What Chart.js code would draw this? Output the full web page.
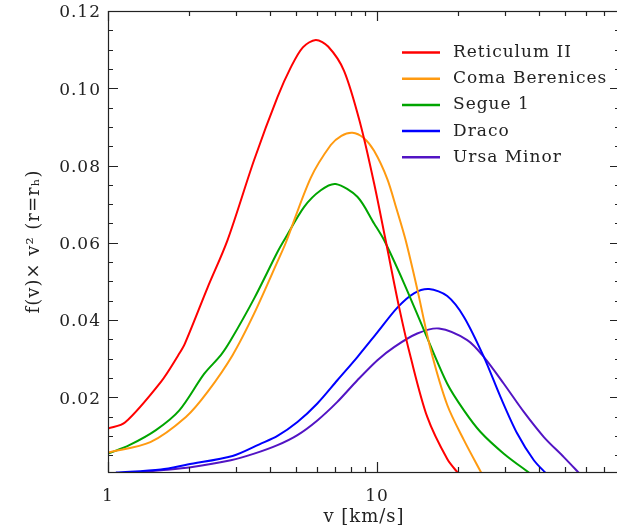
<!DOCTYPE html>
<html>
<head>
<meta charset="utf-8">
<script src="https://cdn.jsdelivr.net/npm/chart.js@4.4.1/dist/chart.umd.min.js"></script>
<style>
    html, body { margin: 0; padding: 0; background: #fff; overflow: hidden; }
    #grafico { display: block; }
</style>
</head>
<body>
<canvas id="grafico" width="625" height="529" style="width:625px;height:529px"></canvas>
<script>
// ========== DATOS ==========
const nombres = ['Reticulum II', 'Coma Berenices', 'Segue 1', 'Draco', 'Ursa Minor'];
const colores = ['#ff0000', '#ff9a10', '#00a500', '#0000ff', '#5214c4'];

const retV = [1.0, 1.156, 1.573, 1.825, 1.931, 2.345, 2.782, 3.495, 4.265, 4.78, 5.3, 5.92, 6.58, 7.54, 8.69, 9.75, 10.76, 12.07, 13.33, 15.37, 18.24, 20.2];
const retF = [0.0119, 0.01345, 0.0240, 0.0309, 0.0339, 0.0484, 0.0607, 0.0815, 0.0977, 0.1054, 0.1106, 0.1125, 0.1108, 0.1045, 0.0905, 0.0754, 0.0607, 0.0434, 0.0304, 0.0149, 0.0040, 0.0];

const comaV = [1.0, 1.437, 1.948, 2.345, 2.904, 3.495, 4.265, 4.58, 5.67, 6.73, 7.37, 8.10, 8.9, 9.75, 10.92, 11.79, 12.77, 14.11, 15.81, 18.24, 21.04, 24.6];
const comaF = [0.0057, 0.0084, 0.0149, 0.0214, 0.0309, 0.0417, 0.0551, 0.0600, 0.0768, 0.0853, 0.0877, 0.0885, 0.0872, 0.0838, 0.0765, 0.0690, 0.0607, 0.0480, 0.0325, 0.0180, 0.0089, 0.0];

const segV = [1.0, 1.20, 1.507, 1.841, 2.28, 2.627, 2.861, 3.495, 4.265, 4.52, 5.36, 6.18, 7.02, 8.45, 9.75, 10.62, 12.6, 14.94, 18.24, 21.04, 24.25, 29.6, 37.5];
const segF = [0.0054, 0.0076, 0.0115, 0.0166, 0.0261, 0.0309, 0.0348, 0.0456, 0.0576, 0.0607, 0.0693, 0.0736, 0.0752, 0.0719, 0.0650, 0.0607, 0.0495, 0.0374, 0.0235, 0.0166, 0.0110, 0.0054, 0.0];

const dracoV = [1.07, 1.573, 1.976, 2.904, 3.70, 4.265, 5.06, 6.0, 7.12, 8.45, 10.03, 11.9, 13.72, 15.6, 18.24, 21.04, 24.97, 28.76, 33.2, 38.27, 42.9];
const dracoF = [0.0005, 0.0013, 0.0026, 0.0048, 0.0080, 0.0100, 0.0136, 0.0184, 0.0244, 0.0304, 0.0368, 0.0432, 0.0469, 0.0480, 0.0462, 0.0408, 0.0304, 0.0201, 0.0106, 0.0037, 0.0];

const umiV = [1.253, 1.573, 2.03, 2.861, 3.495, 4.265, 5.06, 6.0, 7.12, 8.45, 10.03, 11.57, 14.11, 16.99, 21.64, 24.97, 29.6, 35.13, 41.7, 49.46, 57.0];
const umiF = [0.0005, 0.0011, 0.0019, 0.0037, 0.0054, 0.0076, 0.0102, 0.0140, 0.0188, 0.0244, 0.0296, 0.0330, 0.0365, 0.0378, 0.0348, 0.0304, 0.0235, 0.0162, 0.0097, 0.0045, 0.0];

const xTicks = [1, 10];
const yTicks = [0.02, 0.04, 0.06, 0.08, 0.10, 0.12];

const FUENTE = "'DejaVu Serif', serif";

function puntos(vs, fs) {
    return vs.map((v, i) => ({ x: v, y: fs[i] }));
}

const series = [[retV, retF], [comaV, comaF], [segV, segF], [dracoV, dracoF], [umiV, umiF]];

// ========== MARCAS DE EJES Y LEYENDA ==========
const marcoPlugin = {
    id: 'marco',
    beforeDraw(chart) {
        chart.ctx.letterSpacing = '1px';
    },
    afterDraw(chart) {
        const { ctx, chartArea: a, scales: { x, y } } = chart;
        ctx.save();
        ctx.strokeStyle = '#222';
        ctx.lineWidth = 1.2;
        ctx.strokeRect(a.left + 0.5, a.top + 0.5, a.right - a.left, a.bottom - a.top);
        ctx.beginPath();
        // ticks eje x (log)
        [1, 10].forEach(d => {
            for (let k = 1; k <= 9; k++) {
                const v = k * d;
                if (v > x.max) break;
                const px = Math.round(x.getPixelForValue(v)) + 0.5;
                const len = k === 1 ? 10 : 5;
                ctx.moveTo(px, a.bottom); ctx.lineTo(px, a.bottom - len);
                ctx.moveTo(px, a.top); ctx.lineTo(px, a.top + len);
            }
        });
        // ticks eje y
        for (let i = 1; i <= 24; i++) {
            const py = Math.round(y.getPixelForValue(i * 0.005)) + 0.5;
            const len = i % 4 === 0 ? 10 : 5;
            ctx.moveTo(a.left, py); ctx.lineTo(a.left + len, py);
            ctx.moveTo(a.right, py); ctx.lineTo(a.right - len, py);
        }
        ctx.stroke();

        // leyenda
        ctx.font = '17px ' + FUENTE;
        ctx.letterSpacing = '1px';
        ctx.textBaseline = 'middle';
        ctx.textAlign = 'left';
        chart.data.datasets.forEach((ds, i) => {
            const yy = 52.5 + i * 26.2;
            ctx.strokeStyle = ds.borderColor;
            ctx.lineWidth = 2.5;
            ctx.beginPath();
            ctx.moveTo(402, yy); ctx.lineTo(440, yy);
            ctx.stroke();
            ctx.fillStyle = '#222';
            ctx.fillText(ds.label, 453, yy);
        });
        ctx.restore();
    }
};

// ========== GRAFICO ==========
const ctx = document.getElementById('grafico').getContext('2d');
new Chart(ctx, {
    type: 'line',
    data: {
        datasets: series.map((s, i) => ({
            label: nombres[i],
            data: puntos(s[0], s[1]),
            borderColor: colores[i],
            backgroundColor: colores[i],
            borderWidth: 2,
            pointRadius: 0,
            tension: 0.3,
            fill: false
        }))
    },
    options: {
        responsive: false,
        devicePixelRatio: 1,
        animation: false,
        layout: { padding: { top: 11, right: 5, left: 0, bottom: 0 } },
        plugins: { legend: { display: false }, tooltip: { enabled: false } },
        scales: {
            x: {
                type: 'logarithmic',
                min: 1,
                max: 80,
                grid: { display: false, drawTicks: false },
                border: { display: false },
                afterBuildTicks: s => { s.ticks = xTicks.map(v => ({ value: v })); },
                afterFit: s => { s.height = 57; },
                ticks: {
                    color: '#222',
                    font: { family: FUENTE, size: 17 },
                    padding: 14,
                    autoSkip: false,
                    maxRotation: 0,
                    callback: v => String(v)
                },
                title: {
                    display: true,
                    text: 'v [km/s]',
                    color: '#222',
                    font: { family: FUENTE, size: 18 },
                    padding: { top: 0, bottom: 1 }
                }
            },
            y: {
                min: 0.00065,
                max: 0.12,
                grid: { display: false, drawTicks: false },
                border: { display: false },
                afterBuildTicks: s => { s.ticks = yTicks.map(v => ({ value: v })); },
                afterFit: s => { s.width = 108; },
                ticks: {
                    color: '#222',
                    font: { family: FUENTE, size: 17, lineHeight: 0.4 },
                    padding: 7,
                    labelOffset: 2,
                    callback: v => v.toFixed(2)
                },
                title: {
                    display: true,
                    text: 'f(v)× v² (r=rₕ)',
                    color: '#222',
                    font: { family: FUENTE, size: 18 },
                    padding: { top: 24, bottom: 0 }
                }
            }
        }
    },
    plugins: [marcoPlugin]
});
</script>
</body>
</html>
